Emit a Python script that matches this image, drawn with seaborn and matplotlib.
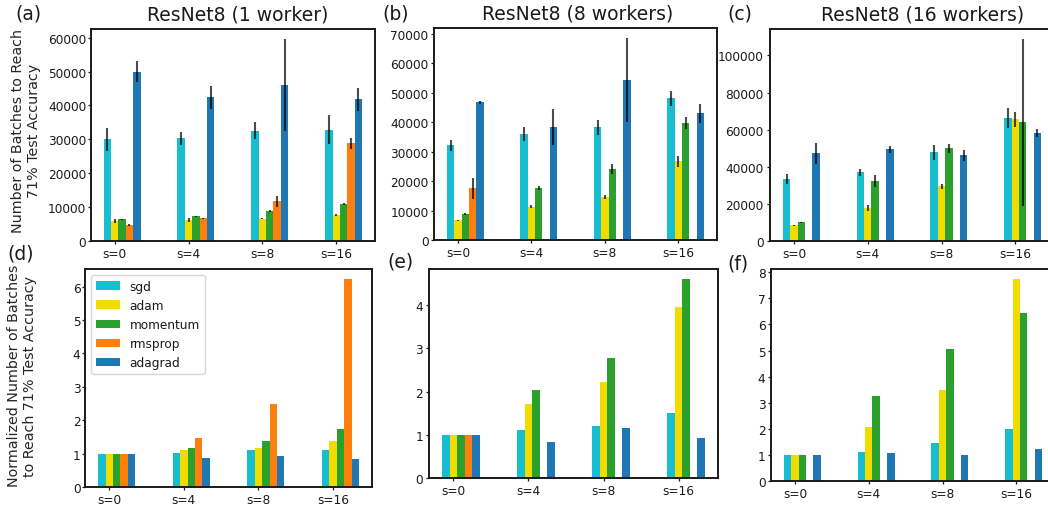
import numpy as np
import pandas as pd
import matplotlib
matplotlib.use("Agg")
import matplotlib.pyplot as plt
from matplotlib.ticker import MultipleLocator
import seaborn as sns

nan = np.nan

sparsity = ["s=0", "s=4", "s=8", "s=16"]
optimizers = ["sgd", "adam", "momentum", "rmsprop", "adagrad"]
colors = ["#17becf", "#f0dc00", "#2ca02c", "#ff7f0e", "#1f77b4"]

# ---- batches to reach 71% test accuracy (mean, +/- error) ----
# 1 worker
w1_sgd = [30000, 30300, 32600, 32900]
w1_adam = [5900, 6100, 6600, 7800]
w1_momentum = [6400, 7300, 8750, 10800]
w1_rmsprop = [4600, 6700, 11700, 28800]
w1_adagrad = [50000, 42400, 46100, 41800]
w1_sgd_err = [3500, 2000, 2600, 4200]
w1_adam_err = [500, 600, 200, 300]
w1_momentum_err = [150, 100, 300, 300]
w1_rmsprop_err = [300, 200, 1700, 1500]
w1_adagrad_err = [3000, 3300, 13500, 3450]

# 8 workers
w8_sgd = [32100, 35900, 38200, 48100]
w8_adam = [6700, 11300, 14700, 26700]
w8_momentum = [8700, 17500, 24000, 39600]
w8_rmsprop = [17500, nan, nan, nan]
w8_adagrad = [46700, 38200, 54200, 43000]
w8_sgd_err = [1900, 2400, 2500, 2500]
w8_adam_err = [150, 500, 700, 1900]
w8_momentum_err = [300, 700, 1700, 2000]
w8_rmsprop_err = [3500, nan, nan, nan]
w8_adagrad_err = [500, 6100, 14300, 3300]

# 16 workers
w16_sgd = [33200, 37000, 47800, 66100]
w16_adam = [8400, 17600, 29400, 65500]
w16_momentum = [10000, 32100, 49900, 63900]
w16_rmsprop = [nan, nan, nan, nan]
w16_adagrad = [47200, 49400, 46100, 58000]
w16_sgd_err = [2700, 2000, 4200, 5400]
w16_adam_err = [300, 1700, 1500, 3800]
w16_momentum_err = [100, 3200, 2400, 44900]
w16_rmsprop_err = [nan, nan, nan, nan]
w16_adagrad_err = [5600, 1900, 3000, 2100]

# ---- normalized to s=0 ----
n1_sgd = [1.0, 1.01, 1.10, 1.10]
n1_adam = [1.0, 1.11, 1.16, 1.37]
n1_momentum = [1.0, 1.16, 1.37, 1.73]
n1_rmsprop = [1.0, 1.46, 2.50, 6.22]
n1_adagrad = [1.0, 0.86, 0.92, 0.83]

n8_sgd = [1.0, 1.11, 1.20, 1.50]
n8_adam = [1.0, 1.71, 2.22, 3.96]
n8_momentum = [1.0, 2.03, 2.78, 4.61]
n8_rmsprop = [1.0, nan, nan, nan]
n8_adagrad = [1.0, 0.83, 1.15, 0.92]

n16_sgd = [1.0, 1.11, 1.46, 1.99]
n16_adam = [1.0, 2.07, 3.49, 7.74]
n16_momentum = [1.0, 3.26, 5.06, 6.44]
n16_rmsprop = [nan, nan, nan, nan]
n16_adagrad = [1.0, 1.07, 1.00, 1.23]

titles = ["ResNet8 (1 worker)", "ResNet8 (8 workers)", "ResNet8 (16 workers)"]
ylabel_top = "Number of Batches to Reach\n71% Test Accuracy"
ylabel_bottom = "Normalized Number of Batches\nto Reach 71% Test Accuracy"


def table(series):
    rows = []
    for opt, vals in zip(optimizers, series):
        for s, v in zip(sparsity, vals):
            rows.append({"sparsity": s, "optimizer": opt, "value": v})
    return pd.DataFrame(rows)


top_sets = [
    ([w1_sgd, w1_adam, w1_momentum, w1_rmsprop, w1_adagrad],
     [w1_sgd_err, w1_adam_err, w1_momentum_err, w1_rmsprop_err, w1_adagrad_err]),
    ([w8_sgd, w8_adam, w8_momentum, w8_rmsprop, w8_adagrad],
     [w8_sgd_err, w8_adam_err, w8_momentum_err, w8_rmsprop_err, w8_adagrad_err]),
    ([w16_sgd, w16_adam, w16_momentum, w16_rmsprop, w16_adagrad],
     [w16_sgd_err, w16_adam_err, w16_momentum_err, w16_rmsprop_err, w16_adagrad_err]),
]
bottom_sets = [
    [n1_sgd, n1_adam, n1_momentum, n1_rmsprop, n1_adagrad],
    [n8_sgd, n8_adam, n8_momentum, n8_rmsprop, n8_adagrad],
    [n16_sgd, n16_adam, n16_momentum, n16_rmsprop, n16_adagrad],
]

sns.set_theme(style="ticks")
plt.rcParams["font.family"] = ["DejaVu Sans"]
plt.rcParams.update({
    "axes.linewidth": 1.4,
    "axes.edgecolor": "#1a1a1a",
    "xtick.major.size": 2,
    "ytick.major.size": 2,
    "xtick.major.pad": 2,
    "ytick.major.pad": 2,
    "xtick.major.width": 0.9,
    "ytick.major.width": 0.9,
    "xtick.labelsize": 8.7,
    "ytick.labelsize": 8.7,
    "text.color": "#1a1a1a",
    "xtick.color": "#1a1a1a",
    "ytick.color": "#1a1a1a",
})

W, H = 1048, 506
fig = plt.figure(figsize=(W / 100, H / 100), dpi=100)


def px_axes(left, top, right, bottom):
    return fig.add_axes([left / W, 1 - bottom / H, (right - left) / W, (bottom - top) / H])


top_boxes = [(90.7, 30, 375, 242), (434, 29, 717, 241), (770, 30, 1054, 242)]
bottom_boxes = [(85, 270, 372, 488), (429, 270, 718, 479), (771, 270, 1055, 482)]
top_steps = [10000, 10000, 20000]
bottom_steps = [1, 1, 1]
top_ypad = [1.2, 2.0, 2.7]
bottom_ypad = [1.2, 2.2, 2.0]
title_x = [0.516, 0.507, 0.537]

palette = dict(zip(optimizers, colors))
hue_w = 0.5 / len(optimizers)
cat_idx = np.arange(len(sparsity))


def draw_bars(ax, df, legend=False):
    sns.barplot(data=df, x="sparsity", y="value", hue="optimizer",
                order=sparsity, hue_order=optimizers, palette=palette,
                saturation=1, width=0.5, errorbar=None, linewidth=0,
                legend=legend, ax=ax)
    ax.set_xlim(-0.25 - 0.175, len(sparsity) - 0.75 + 0.175)
    ax.set_xticks(cat_idx - hue_w, sparsity)
    ax.set_xlabel("")
    for side in ["top", "right", "left", "bottom"]:
        ax.spines[side].set_visible(True)


for k in range(3):
    vals, errs = top_sets[k]
    ax = px_axes(*top_boxes[k])
    draw_bars(ax, table(vals))
    # error bars placed at the centres of the drawn bars
    xs, ys, es = [], [], []
    for p in ax.patches:
        if p.get_width() <= 0:
            continue
        xc = p.get_x() + p.get_width() / 2
        ci = int(round(xc))
        hi = int(round((xc - ci) / hue_w + (len(optimizers) - 1) / 2))
        e = errs[hi][ci]
        v = vals[hi][ci]
        if np.isnan(v):
            continue
        xs.append(xc)
        ys.append(v)
        es.append(e)
    ax.errorbar(xs, ys, yerr=es, fmt="none", ecolor="black",
                elinewidth=1.5, alpha=0.7, capsize=0)
    ax.autoscale(axis="y")
    ax.set_ylim(0, None)
    ax.set_xlim(-0.25 - 0.175, len(sparsity) - 0.75 + 0.175)
    ax.yaxis.set_major_locator(MultipleLocator(top_steps[k]))
    ax.tick_params(axis="y", pad=top_ypad[k])
    ax.set_title(titles[k], fontsize=13.5, pad=7, x=title_x[k])
    if k == 0:
        ax.set_ylabel(ylabel_top, fontsize=10.3)
        ax.yaxis.set_label_coords(-0.175, 0.525)
    else:
        ax.set_ylabel("")

for k in range(3):
    ax = px_axes(*bottom_boxes[k])
    draw_bars(ax, table(bottom_sets[k]), legend=(k == 0))
    ax.yaxis.set_major_locator(MultipleLocator(bottom_steps[k]))
    ax.tick_params(axis="y", pad=bottom_ypad[k])
    if k == 0:
        ax.set_ylabel(ylabel_bottom, fontsize=10.3)
        ax.yaxis.set_label_coords(-0.166, 0.513)
        handles, labels = ax.get_legend_handles_labels()
        ax.legend(handles, labels, loc="upper left", fontsize=8.7,
                  frameon=True)
    else:
        ax.set_ylabel("")

letters = [("(a)", 15, 5), ("(b)", 382, 5), ("(c)", 727, 5),
           ("(d)", 7, 245), ("(e)", 387, 253), ("(f)", 727, 255)]
for txt, x, y in letters:
    fig.text(x / W, 1 - y / H, txt, fontsize=13.5, ha="left", va="top")

fig.savefig("out.png", dpi=100, facecolor="white")
